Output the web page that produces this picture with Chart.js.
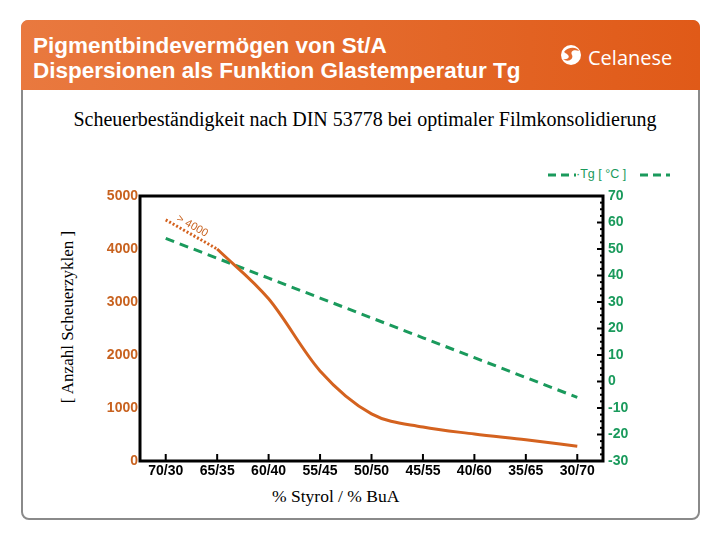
<!DOCTYPE html>
<html>
<head>
<meta charset="utf-8">
<script src="https://cdn.jsdelivr.net/npm/chart.js@4.4.1/dist/chart.umd.min.js"></script>
<style>
  html, body { margin:0; padding:0; background:#fff; }
  body { width:720px; height:540px; position:relative; overflow:hidden; font-family:"Liberation Sans", Arial, sans-serif; }
  #frame { position:absolute; left:21px; top:20px; width:675px; height:496px; border:2px solid #8a8a8a; border-radius:8px; }
  #banner { position:absolute; left:21px; top:20px; width:679px; height:70px; border-radius:7px 7px 0 0;
            background:linear-gradient(90deg,#e9793f 0%,#e46a2c 50%,#e05a18 100%); }
  #t1, #t2 { position:absolute; left:33px; color:#fff; font-size:22.5px; font-weight:bold; white-space:nowrap; }
  #t1 { top:33px; } #t2 { top:58px; }
  #logo { position:absolute; left:560px; top:43px; }
  #logotxt { position:absolute; left:588px; top:44px; color:#fff; font-size:20px; font-family:"Open Sans", sans-serif; white-space:nowrap; }
  #sub { position:absolute; left:0; width:730px; top:108px; text-align:center; font-family:"Liberation Serif", serif; font-size:20px; color:#000; white-space:nowrap; }
  #xt { position:absolute; left:272px; top:486px; font-family:"Liberation Serif", serif; font-size:17.5px; white-space:nowrap; }
  #yt { position:absolute; left:68px; top:317px; transform:translate(-50%,-50%) rotate(-90deg); font-family:"Liberation Serif", serif; font-size:17px; white-space:nowrap; }
  #leg { position:absolute; left:548px; top:167px; height:16px; width:125px; }
  #legtxt { position:absolute; left:576px; top:167px; color:#1a9a5c; font-size:12.5px; white-space:nowrap; }
  canvas#c { position:absolute; left:0; top:0; }
</style>
</head>
<body>
<div id="frame"></div>
<div id="banner"></div>
<div id="t1">Pigmentbindevermögen von St/A</div>
<div id="t2">Dispersionen als Funktion Glastemperatur Tg</div>
<svg id="logo" width="22" height="24" viewBox="0 0 22 24">
  <circle cx="11" cy="12" r="10" fill="#fff"/>
  <path d="M4 9 C8 3, 18 4, 19 8 C14 6, 10 8, 12 12 C14 16, 8 20, 3 16 C8 17, 10 14, 8 12 C6 10, 5 10, 4 9 Z" fill="#e46a2c"/>
</svg>
<div id="logotxt">Celanese</div>
<div id="sub">Scheuerbeständigkeit nach DIN 53778 bei optimaler Filmkonsolidierung</div>
<div id="xt">% Styrol / % BuA</div>
<div id="yt">[ Anzahl Scheuerzyklen ]</div>
<svg id="leg" width="125" height="16">
  <line x1="0" y1="8" x2="28" y2="8" stroke="#1a9a5c" stroke-width="3" stroke-dasharray="8,5"/>
  <line x1="92" y1="8" x2="122" y2="8" stroke="#1a9a5c" stroke-width="3" stroke-dasharray="8,5"/>
</svg>
<div id="legtxt">·Tg [ °C ]</div>
<canvas id="c" width="720" height="540"></canvas>
<script>
const categories = ["70/30","65/35","60/40","55/45","50/50","45/55","40/60","35/65","30/70"];
const scheuerDotted = [4550, 4000, null, null, null, null, null, null, null];
const scheuerSolid  = [null, 4000, 3060, 1700, 890, 640, 510, 400, 280];
const tgValues      = [54, 46.5, 39, 31.5, 24, 16.5, 9, 1.5, -6];
const leftTicks  = [0, 1000, 2000, 3000, 4000, 5000];
const rightTicks = [-30, -20, -10, 0, 10, 20, 30, 40, 50, 60, 70];
const dottedLabel = "> 4000";

const ORANGE = "#d4621f";
const ORANGE_TXT = "#c8621f";
const GREEN = "#1a9a5c";

const decor = {
  id: "decor",
  afterDraw(chart) {
    const ctx = chart.ctx;
    const a = chart.chartArea;
    const x = chart.scales.x, y2 = chart.scales.y2, y = chart.scales.y;
    ctx.save();
    ctx.strokeStyle = "#000";
    ctx.lineWidth = 3;
    ctx.strokeRect(a.left, a.top, a.right - a.left, a.bottom - a.top);
    ctx.lineWidth = 2;
    categories.forEach((c, i) => {
      const px = x.getPixelForValue(i);
      ctx.beginPath(); ctx.moveTo(px, a.bottom); ctx.lineTo(px, a.bottom - 7); ctx.stroke();
    });
    for (let v = rightTicks[0]; v <= rightTicks[rightTicks.length - 1]; v += 2.5) {
      const py = y2.getPixelForValue(v);
      const major = Math.abs(v % 10) < 1e-6;
      ctx.beginPath(); ctx.moveTo(a.right, py); ctx.lineTo(a.right - (major ? 6 : 3), py); ctx.stroke();
    }
    const x0 = x.getPixelForValue(0), x1 = x.getPixelForValue(1);
    const yA = y.getPixelForValue(scheuerDotted[0]), yB = y.getPixelForValue(scheuerDotted[1]);
    const ang = Math.atan2(yB - yA, x1 - x0);
    const mx = x0 + (x1 - x0) * 0.48, my = yA + (yB - yA) * 0.48;
    ctx.translate(mx + 4 * Math.sin(ang), my - 9 * Math.cos(ang));
    ctx.rotate(ang);
    ctx.fillStyle = ORANGE_TXT;
    ctx.font = "11px 'Liberation Sans', Arial, sans-serif";
    ctx.textAlign = "center";
    ctx.textBaseline = "middle";
    ctx.fillText(dottedLabel, 0, 0);
    ctx.restore();
  }
};

const tickFont = { family: "'Liberation Sans', Arial, sans-serif", size: 14, weight: "bold" };

new Chart(document.getElementById("c"), {
  type: "line",
  data: {
    labels: categories,
    datasets: [
      { data: scheuerDotted, yAxisID: "y", borderColor: ORANGE, borderWidth: 3, borderDash: [2, 2], pointRadius: 0, tension: 0 },
      { data: scheuerSolid, yAxisID: "y", borderColor: ORANGE, borderWidth: 3, pointRadius: 0, cubicInterpolationMode: "monotone" },
      { data: tgValues, yAxisID: "y2", borderColor: GREEN, borderWidth: 3, borderDash: [9, 6], pointRadius: 0, tension: 0 }
    ]
  },
  options: {
    responsive: false,
    animation: false,
    events: [],
    layout: { padding: { top: 196, left: 0, right: 0, bottom: 0 } },
    plugins: { legend: { display: false }, tooltip: { enabled: false } },
    scales: {
      x: {
        offset: true,
        grid: { display: false, drawTicks: false },
        border: { display: false },
        ticks: { color: "#000", font: tickFont, padding: 2, maxRotation: 0 },
        afterFit(s) { s.height = 79; }
      },
      y: {
        position: "left",
        min: 0, max: 5000,
        grid: { display: false, drawTicks: false },
        border: { display: false },
        afterBuildTicks(s) { s.ticks = leftTicks.map(v => ({ value: v })); },
        ticks: { color: ORANGE_TXT, font: tickFont, padding: 2, callback: v => String(v) },
        afterFit(s) { s.width = 140; }
      },
      y2: {
        position: "right",
        min: -30, max: 70,
        grid: { display: false, drawTicks: false },
        border: { display: false },
        afterBuildTicks(s) { s.ticks = rightTicks.map(v => ({ value: v })); },
        ticks: { color: GREEN, font: tickFont, padding: 5, callback: v => String(v) },
        afterFit(s) { s.width = 117; }
      }
    }
  },
  plugins: [decor]
});
</script>
</body>
</html>
